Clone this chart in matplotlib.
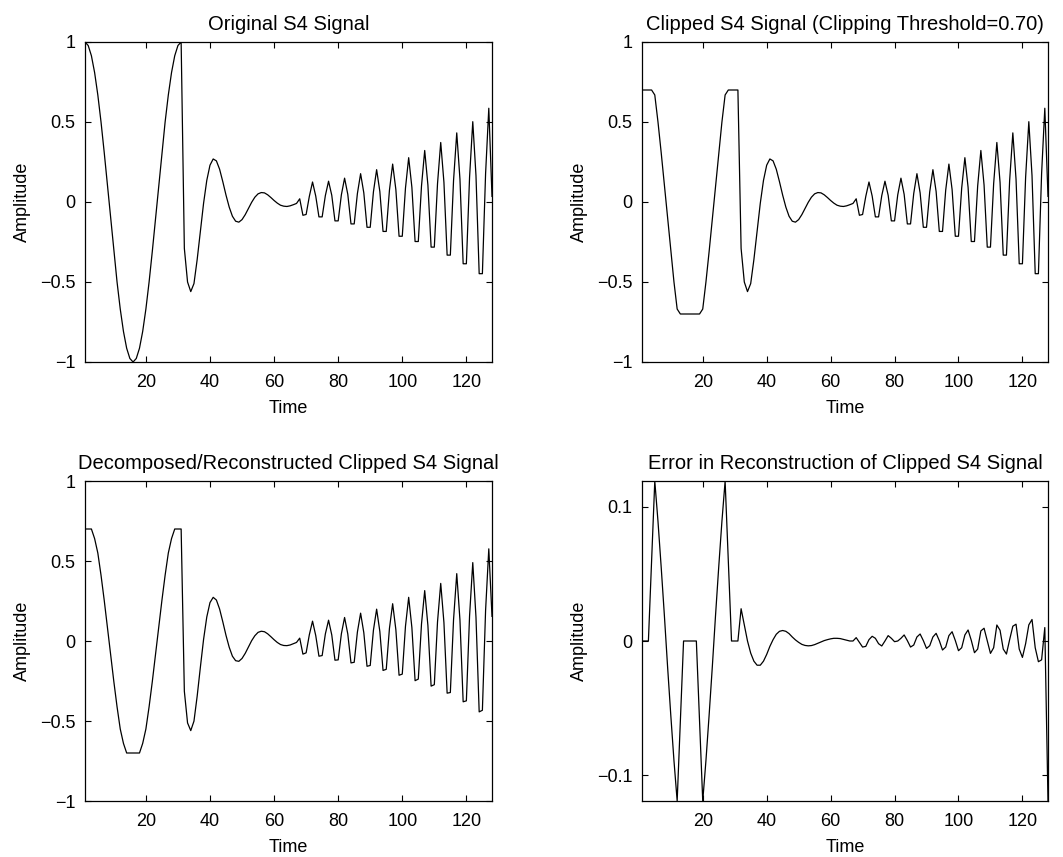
import matplotlib
matplotlib.use("Agg")
import matplotlib.pyplot as plt

plt.rcParams['font.family'] = ['Liberation Sans', 'DejaVu Sans']
plt.rcParams['axes.unicode_minus'] = True

time = list(range(1, 129))

original = [
    1.000, 0.978, 0.914, 0.809, 0.669, 0.500, 0.309, 0.105, -0.105, -0.309,
    -0.500, -0.669, -0.809, -0.914, -0.978, -1.000, -0.978, -0.914, -0.809, -0.669,
    -0.500, -0.309, -0.105, 0.105, 0.309, 0.500, 0.669, 0.809, 0.914, 0.978,
    1.000, -0.290, -0.500, -0.560, -0.510, -0.360, -0.182, -0.008, 0.135, 0.230,
    0.269, 0.257, 0.205, 0.127, 0.043, -0.032, -0.089, -0.120, -0.126, -0.110,
    -0.079, -0.041, -0.002, 0.030, 0.051, 0.059, 0.057, 0.045, 0.028, 0.0095,
    -0.007, -0.020, -0.026, -0.028, -0.024, -0.017, -0.009, 0.020, -0.083, -0.078,
    0.035, 0.125, 0.037, -0.093, -0.093, 0.040, 0.130, 0.042, -0.118, -0.118,
    0.045, 0.149, 0.048, -0.137, -0.137, 0.053, 0.177, 0.057, -0.158, -0.158,
    0.063, 0.202, 0.066, -0.184, -0.184, 0.074, 0.237, 0.078, -0.214, -0.214,
    0.087, 0.277, 0.092, -0.247, -0.247, 0.100, 0.322, 0.106, -0.282, -0.282,
    0.115, 0.372, 0.123, -0.332, -0.332, 0.134, 0.432, 0.143, -0.386, -0.386,
    0.155, 0.502, 0.165, -0.448, -0.448, 0.178, 0.586, 0.035,
]

clipped = [
    0.700, 0.700, 0.700, 0.700, 0.669, 0.500, 0.309, 0.105, -0.105, -0.309,
    -0.500, -0.669, -0.700, -0.700, -0.700, -0.700, -0.700, -0.700, -0.700, -0.669,
    -0.500, -0.309, -0.105, 0.105, 0.309, 0.500, 0.669, 0.700, 0.700, 0.700,
    0.700, -0.290, -0.500, -0.560, -0.510, -0.360, -0.182, -0.008, 0.135, 0.230,
    0.269, 0.257, 0.205, 0.127, 0.043, -0.032, -0.089, -0.120, -0.126, -0.110,
    -0.079, -0.041, -0.002, 0.030, 0.051, 0.059, 0.057, 0.045, 0.028, 0.0095,
    -0.007, -0.020, -0.026, -0.028, -0.024, -0.017, -0.009, 0.020, -0.083, -0.078,
    0.035, 0.125, 0.037, -0.093, -0.093, 0.040, 0.130, 0.042, -0.118, -0.118,
    0.045, 0.149, 0.048, -0.137, -0.137, 0.053, 0.177, 0.057, -0.158, -0.158,
    0.063, 0.202, 0.066, -0.184, -0.184, 0.074, 0.237, 0.078, -0.214, -0.214,
    0.087, 0.277, 0.092, -0.247, -0.247, 0.100, 0.322, 0.106, -0.282, -0.282,
    0.115, 0.372, 0.123, -0.332, -0.332, 0.134, 0.432, 0.143, -0.386, -0.386,
    0.155, 0.502, 0.165, -0.448, -0.448, 0.178, 0.586, 0.035,
]

reconstructed = [
    0.700, 0.700, 0.700, 0.640, 0.550, 0.411, 0.254, 0.086, -0.086, -0.254,
    -0.411, -0.550, -0.640, -0.700, -0.700, -0.700, -0.700, -0.700, -0.640, -0.550,
    -0.411, -0.254, -0.086, 0.086, 0.254, 0.411, 0.550, 0.640, 0.700, 0.700,
    0.700, -0.314, -0.512, -0.560, -0.501, -0.345, -0.164, 0.010, 0.150, 0.240,
    0.273, 0.256, 0.200, 0.120, 0.035, -0.039, -0.095, -0.123, -0.127, -0.109,
    -0.077, -0.038, 0.002, 0.033, 0.054, 0.061, 0.058, 0.045, 0.027, 0.008,
    -0.009, -0.022, -0.028, -0.029, -0.025, -0.017, -0.009, 0.018, -0.082, -0.074,
    0.039, 0.124, 0.034, -0.095, -0.091, 0.044, 0.130, 0.038, -0.120, -0.118,
    0.045, 0.147, 0.044, -0.137, -0.133, 0.056, 0.174, 0.052, -0.158, -0.153,
    0.067, 0.199, 0.060, -0.184, -0.177, 0.079, 0.233, 0.071, -0.214, -0.207,
    0.092, 0.273, 0.084, -0.248, -0.238, 0.106, 0.315, 0.097, -0.282, -0.273,
    0.120, 0.360, 0.115, -0.326, -0.322, 0.133, 0.421, 0.131, -0.380, -0.374,
    0.157, 0.490, 0.149, -0.443, -0.433, 0.192, 0.576, 0.154,
]

error = [
    0.000, 0.000, 0.000, 0.060, 0.119, 0.089, 0.055, 0.019, -0.019, -0.055,
    -0.089, -0.119, -0.060, 0.000, 0.000, 0.000, 0.000, 0.000, -0.060, -0.119,
    -0.089, -0.055, -0.019, 0.019, 0.055, 0.089, 0.119, 0.060, 0.000, 0.000,
    0.000, 0.024, 0.012, 0.000, -0.009, -0.015, -0.018, -0.018, -0.015, -0.010,
    -0.004, 0.001, 0.005, 0.0072, 0.0078, 0.0072, 0.0055, 0.003, 0.0008, -0.001,
    -0.0025, -0.0033, -0.0036, -0.0034, -0.0027, -0.0017, -0.0007, 0.0003, 0.001, 0.0016,
    0.002, 0.002, 0.0018, 0.0012, 0.0006, 0.000, 0.000, 0.0025, -0.001, -0.0045,
    -0.004, 0.001, 0.0035, 0.002, -0.002, -0.0037, 0.000, 0.004, 0.002, -0.0005,
    0.000, 0.002, 0.0045, 0.0003, -0.0045, -0.003, 0.003, 0.0052, 0.0003, -0.0055,
    -0.0035, 0.003, 0.0057, 0.0003, -0.0067, -0.0045, 0.004, 0.0069, 0.0004, -0.0072,
    -0.005, 0.0045, 0.0082, 0.0005, -0.0087, -0.006, 0.0075, 0.0095, 0.000, -0.0092,
    -0.005, 0.0119, 0.008, -0.006, -0.0097, 0.001, 0.011, 0.0125, -0.006, -0.0122,
    -0.002, 0.012, 0.016, -0.005, -0.0154, -0.014, 0.010, -0.119,
]

titles = [
    "Original S4 Signal",
    "Clipped S4 Signal (Clipping Threshold=0.70)",
    "Decomposed/Reconstructed Clipped S4 Signal",
    "Error in Reconstruction of Clipped S4 Signal",
]
series = [original, clipped, reconstructed, error]
x_ticks = [20, 40, 60, 80, 100, 120]
amp_ticks = [-1, -0.5, 0, 0.5, 1]
amp_ticklabels = ["\u22121", "\u22120.5", "0", "0.5", "1"]
err_ticks = [-0.1, 0, 0.1]
err_ticklabels = ["\u22120.1", "0", "0.1"]
err_lim = 0.119

W, H = 1063, 857
fig = plt.figure(figsize=(W / 100, H / 100), dpi=100)
positions = [
    (85, 42, 407, 320),
    (642, 42, 406, 320),
    (85, 481, 407, 320),
    (642, 481, 406, 320),
]
FS = 13
TFS = 14.5
for i, (pos, ttl, ys) in enumerate(zip(positions, titles, series)):
    x0, y0, w, h = pos
    ax = fig.add_axes([x0 / W, 1 - (y0 + h) / H, w / W, h / H])
    ax.plot(time, ys, color='black', linewidth=0.9)
    ax.set_xlim(1, 128)
    ax.set_xticks(x_ticks)
    if i < 3:
        ax.set_ylim(-1, 1)
        ax.set_yticks(amp_ticks)
        ax.set_yticklabels(amp_ticklabels)
    else:
        ax.set_ylim(-err_lim, err_lim)
        ax.set_yticks(err_ticks)
        ax.set_yticklabels(err_ticklabels)
    ax.tick_params(direction='in', length=4, width=0.8, top=True, right=True,
                   labelsize=FS)
    ax.tick_params(axis='x', pad=9)
    ax.tick_params(axis='y', pad=7)
    for sp in ax.spines.values():
        sp.set_linewidth(0.9)
    ax.set_title(ttl, fontsize=TFS, pad=8.5)
    ax.set_xlabel("Time", fontsize=FS, labelpad=6)
    ax.set_ylabel("Amplitude", fontsize=FS, labelpad=6)

fig.savefig("out.png", dpi=100)
